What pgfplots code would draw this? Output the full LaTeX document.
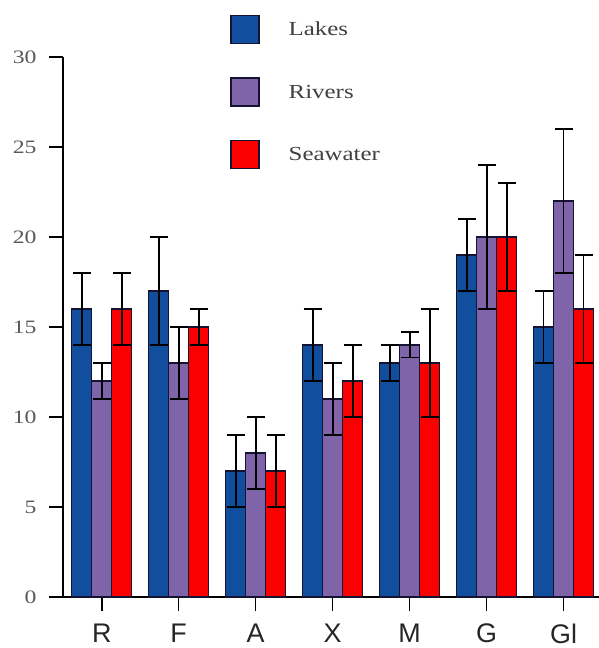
\documentclass[border=0pt]{standalone}
\usepackage{fontspec}
\setmainfont{Liberation Serif}
\newfontfamily\xsans{Liberation Sans}
\newfontfamily\wideserif[FakeStretch=1.25]{Liberation Serif}
\usepackage{pgfplots}
\pgfplotsset{compat=1.18}
\definecolor{lakes}{RGB}{18,78,158}
\definecolor{rivers}{RGB}{128,100,170}
\definecolor{sea}{RGB}{250,0,0}
\definecolor{edge}{RGB}{20,20,50}
\begin{document}
\begin{tikzpicture}
\useasboundingbox (-63bp,-51bp) rectangle (536bp,597bp);
\begin{axis}[
  at={(0,0)}, anchor=south west,
  scale only axis, width=536bp, height=540bp,
  xmin=-0.503, xmax=6.46, ymin=0, ymax=30,
  axis x line*=bottom, axis y line*=left,
  axis line style={-, black, line width=1.6bp},
  xtick={0,...,6}, xticklabels={R,F,A,X,M,G,Gl},
  ytick={0,5,...,30},
  tick align=outside, major tick length=14bp,
  tick style={black, line width=1.6bp},
  /pgf/number format/assume math mode=true,
  x tick label style={font=\xsans\fontsize{27}{27}\selectfont, text=black!85, yshift=-9bp},
  y tick label style={font=\wideserif\fontsize{19}{19}\selectfont, text=black!65, xshift=-9bp},
  ybar=0pt, bar width=20bp,
  error bars/y dir=both, error bars/y explicit,
  error bars/error bar style={black, line width=1.8bp},
  error bars/error mark options={rotate=90, mark size=9bp, line width=1.8bp, black},
  legend style={at={(axis description cs:0.306,1.082)}, anchor=north west,
    draw=none, fill=none, row sep=33bp,
    font=\wideserif\fontsize{20}{20}\selectfont, text=black!75,
    /tikz/every odd column/.append style={column sep=27bp}},
  legend cell align=left,
]
\addplot[fill=lakes, draw=edge, line width=1.3bp,
  legend image code/.code={\draw[fill=lakes, draw=edge, line width=1.5bp] (0bp,-14bp) rectangle (28bp,14bp);}]
  coordinates {(0,16) +- (0,2) (1,17) +- (0,3) (2,7) +- (0,2) (3,14) +- (0,2) (4,13) +- (0,1) (5,19) +- (0,2) (6,15) +- (0,2)};
\addlegendentry{Lakes}
\addplot[fill=rivers, draw=edge, line width=1.3bp,
  legend image code/.code={\draw[fill=rivers, draw=edge, line width=1.5bp] (0bp,-14bp) rectangle (28bp,14bp);}]
  coordinates {(0,12) +- (0,1) (1,13) +- (0,2) (2,8) +- (0,2) (3,11) +- (0,2) (4,14) +- (0,0.7) (5,20) +- (0,4) (6,22) +- (0,4)};
\addlegendentry{Rivers}
\addplot[fill=sea, draw=edge, line width=1.3bp,
  legend image code/.code={\draw[fill=sea, draw=edge, line width=1.5bp] (0bp,-14bp) rectangle (28bp,14bp);}]
  coordinates {(0,16) +- (0,2) (1,15) +- (0,1) (2,7) +- (0,2) (3,12) +- (0,2) (4,13) +- (0,3) (5,20) +- (0,3) (6,16) +- (0,3)};
\addlegendentry{Seawater}
\end{axis}
\end{tikzpicture}
\end{document}
